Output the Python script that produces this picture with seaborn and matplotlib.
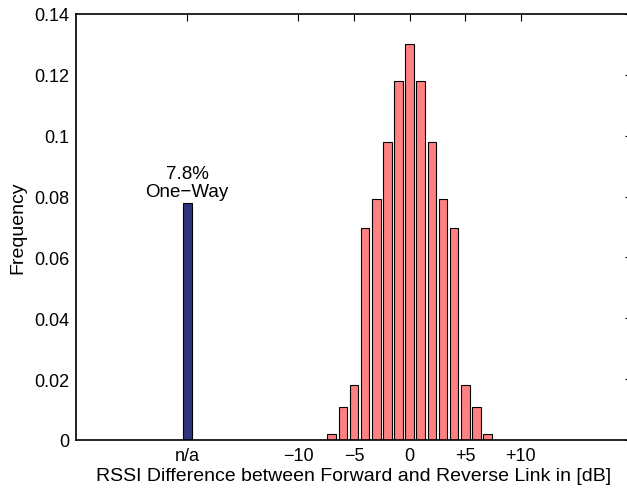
"""RSSI difference histogram between forward and reverse link."""
import matplotlib
matplotlib.use("Agg")
import matplotlib.pyplot as plt
import pandas as pd
import seaborn as sns

# RSSI difference bins in dB and their frequencies
diff_db = [-7, -6, -5, -4, -3, -2, -1, 0, 1, 2, 3, 4, 5, 6, 7]
freq = [0.002, 0.0107, 0.018, 0.0695, 0.0793, 0.098, 0.118, 0.13,
        0.118, 0.098, 0.0793, 0.0695, 0.018, 0.0107, 0.002]

# one-way links have no RSSI difference, shown at a separate slot
oneway_pos = -20
oneway_freq = 0.078

tick_pos = [-20, -10, -5, 0, 5, 10]
tick_labels = ['n/a', '\u221210', '\u22125', '0', '+5', '+10']

sns.set_style('white')
plt.rcParams['font.family'] = ['Liberation Sans', 'DejaVu Sans']
plt.rcParams['text.color'] = 'black'
plt.rcParams['axes.labelcolor'] = 'black'
plt.rcParams['xtick.color'] = 'black'
plt.rcParams['ytick.color'] = 'black'

df = pd.DataFrame({
    'x': [oneway_pos] + diff_db,
    'y': [oneway_freq] + freq,
    'kind': ['oneway'] + ['two'] * len(diff_db),
})

fig = plt.figure(figsize=(6.27, 4.89), dpi=100)
ax = fig.add_axes([0.1212, 0.0982, 0.8868, 0.8712])

sns.barplot(data=df, x='x', y='y', hue='kind', native_scale=True, dodge=False,
            palette={'oneway': '#30347e', 'two': '#ff8080'}, width=0.78,
            saturation=1, edgecolor='black', linewidth=0.8, legend=False, ax=ax)

ax.text(oneway_pos, oneway_freq + 0.0008, '7.8%\nOne\u2212Way', ha='center', va='bottom',
        fontsize=13.5, linespacing=1.1)

ax.set_xlim(-30, 20)
ax.set_ylim(0, 0.14)
ax.set_xticks(tick_pos)
ax.set_xticklabels(tick_labels)
ax.set_yticks([0, 0.02, 0.04, 0.06, 0.08, 0.1, 0.12, 0.14])
ax.set_yticklabels(['0', '0.02', '0.04', '0.06', '0.08', '0.1', '0.12', '0.14'])
ax.tick_params(direction='in', top=True, right=True, length=5, width=0.8,
               labelsize=13, pad=5)
for s in ax.spines.values():
    s.set_linewidth(1.2)
    s.set_color('black')

ax.set_xlabel('RSSI Difference between Forward and Reverse Link in [dB]', fontsize=14,
              labelpad=2)
ax.set_ylabel('Frequency', fontsize=14, labelpad=5)

fig.savefig('out.png', dpi=100)
